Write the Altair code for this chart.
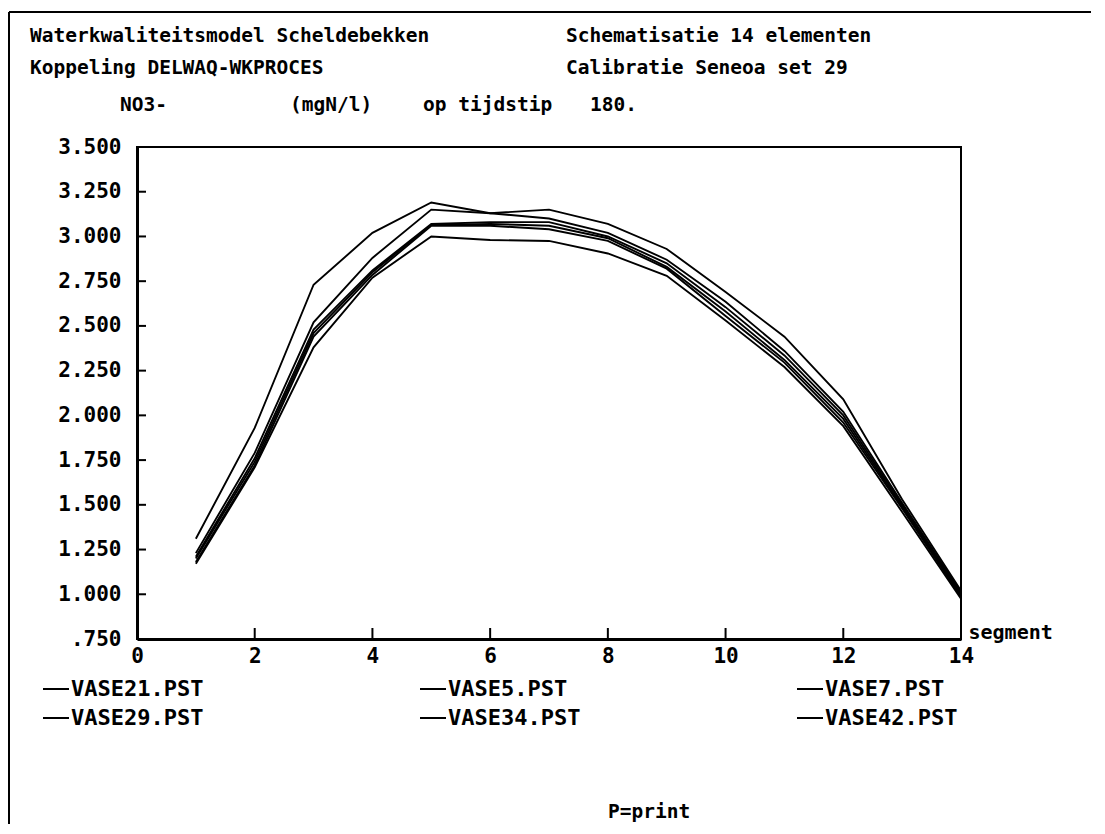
import altair as alt
import pandas as pd

# ---------------- data ----------------
segments = list(range(1, 15))
series_names = ["VASE21.PST", "VASE5.PST", "VASE7.PST", "VASE29.PST", "VASE34.PST", "VASE42.PST"]

vase21 = [1.31, 1.93, 2.73, 3.02, 3.19, 3.13, 3.15, 3.07, 2.93, 2.69, 2.44, 2.09, 1.53, 1.02]
vase5 = [1.23, 1.79, 2.52, 2.88, 3.15, 3.13, 3.10, 3.02, 2.87, 2.635, 2.36, 2.02, 1.51, 1.01]
vase7 = [1.21, 1.76, 2.48, 2.81, 3.07, 3.08, 3.08, 3.00, 2.85, 2.605, 2.335, 2.00, 1.50, 1.00]
vase29 = [1.20, 1.74, 2.46, 2.80, 3.065, 3.07, 3.06, 2.99, 2.83, 2.58, 2.31, 1.98, 1.49, 0.99]
vase34 = [1.18, 1.72, 2.44, 2.785, 3.06, 3.06, 3.04, 2.975, 2.82, 2.555, 2.295, 1.96, 1.48, 0.985]
vase42 = [1.17, 1.71, 2.38, 2.77, 3.00, 2.98, 2.975, 2.905, 2.78, 2.53, 2.27, 1.94, 1.46, 0.975]

y_tick_values = [0.75, 1.0, 1.25, 1.5, 1.75, 2.0, 2.25, 2.5, 2.75, 3.0, 3.25, 3.5]
x_tick_values = [0, 2, 4, 6, 8, 10, 12, 14]

title_left_1 = "Waterkwaliteitsmodel Scheldebekken"
title_left_2 = "Koppeling DELWAQ-WKPROCES"
title_right_1 = "Schematisatie 14 elementen"
title_right_2 = "Calibratie Seneoa set 29"
param_name = "NO3-"
param_unit = "(mgN/l)"
time_label = "op tijdstip"
time_value = "180."
x_title = "segment"
footer = "P=print"

# ---------------- build table ----------------
rows = []
for name, vals in zip(series_names, [vase21, vase5, vase7, vase29, vase34, vase42]):
    for s, v in zip(segments, vals):
        rows.append({"segment": s, "value": v, "series": name})
df = pd.DataFrame(rows)

W, H = 824, 492
FONT = "DejaVu Sans Mono"

x_scale = alt.Scale(domain=[0, 14], nice=False, zero=False)
y_scale = alt.Scale(domain=[0.75, 3.5], nice=False, zero=False)

x_axis = alt.Axis(
    values=x_tick_values, format="d", ticks=False, grid=False,
    domainWidth=3, domainColor="black",
    labelFont=FONT, labelFontSize=21, labelFontWeight="bold", labelColor="black",
    labelPadding=6, labelFlush=False, labelBaseline="top",
    title=x_title, titleX=W + 7, titleY=-1, titleAlign="left", titleBaseline="alphabetic",
    titleFont=FONT, titleFontSize=20, titleFontWeight="bold", titleColor="black",
)
y_axis = alt.Axis(
    values=y_tick_values, ticks=False, grid=False,
    domainWidth=3, domainColor="black",
    labelExpr="datum.value < 1 ? substring(format(datum.value, '.3f'), 1) : format(datum.value, '.3f')",
    labelFont=FONT, labelFontSize=21, labelFontWeight="bold", labelColor="black",
    labelPadding=16, labelFlush=False, labelBaseline="middle",
    title=None,
)

legend = alt.Legend(
    orient="none", legendX=-95, legendY=528, direction="horizontal", columns=3,
    title=None, symbolType="stroke", symbolSize=676, symbolStrokeWidth=2,
    symbolStrokeColor="black",
    labelFont=FONT, labelFontSize=22, labelFontWeight="bold", labelColor="black",
    labelOffset=1, columnPadding=212, rowPadding=4, gridAlign="all", padding=0,
    labelLimit=400,
)

lines = alt.Chart(df).mark_line(strokeWidth=1.9, clip=True).encode(
    x=alt.X("segment:Q", scale=x_scale, axis=x_axis),
    y=alt.Y("value:Q", scale=y_scale, axis=y_axis),
    color=alt.Color("series:N", scale=alt.Scale(domain=series_names, range=["black"] * 6),
                    legend=legend, sort=series_names),
)

# inward tick marks
y_ticks = alt.Chart(pd.DataFrame({"value": y_tick_values})).mark_rule(
    color="black", strokeWidth=2
).encode(y=alt.Y("value:Q", scale=y_scale), x=alt.value(0), x2=alt.value(9))

x_ticks = alt.Chart(pd.DataFrame({"segment": x_tick_values})).mark_rule(
    color="black", strokeWidth=2
).encode(x=alt.X("segment:Q", scale=x_scale), y=alt.value(H), y2=alt.value(H - 11))


def label(text, x, y, size=19.5, align="left"):
    return alt.Chart(pd.DataFrame({"t": [text]})).mark_text(
        font=FONT, fontSize=size, fontWeight="bold", color="black",
        align=align, baseline="alphabetic",
    ).encode(text="t:N", x=alt.value(x), y=alt.value(y))


texts = [
    label(title_left_1, -107, -105),
    label(title_left_2, -107, -73),
    label(title_right_1, 429, -105),
    label(title_right_2, 429, -73),
    label(param_name, -17, -36),
    label(param_unit, 153, -36),
    label(time_label, 286, -36),
    label(time_value, 453, -36),
    label(footer, 471, 671),
]

# scanned page frame (top and left edges)
frame_df = pd.DataFrame({"a": [0]})
frame_top = alt.Chart(frame_df).mark_rule(color="black", strokeWidth=2).encode(
    x=alt.value(-128), x2=alt.value(W + 130), y=alt.value(-135)
)
frame_left = alt.Chart(frame_df).mark_rule(color="black", strokeWidth=2).encode(
    x=alt.value(-128), y=alt.value(-135), y2=alt.value(H + 185)
)

chart = alt.layer(lines, y_ticks, x_ticks, frame_top, frame_left, *texts).properties(
    width=W, height=H,
    padding={"left": 129, "top": 139, "right": 132, "bottom": 185},
    autosize=alt.AutoSizeParams(type="none"),
    background="white",
).configure_view(stroke="black", strokeWidth=2)

chart.save("out.html", embed_options={"renderer": "svg", "actions": False})
